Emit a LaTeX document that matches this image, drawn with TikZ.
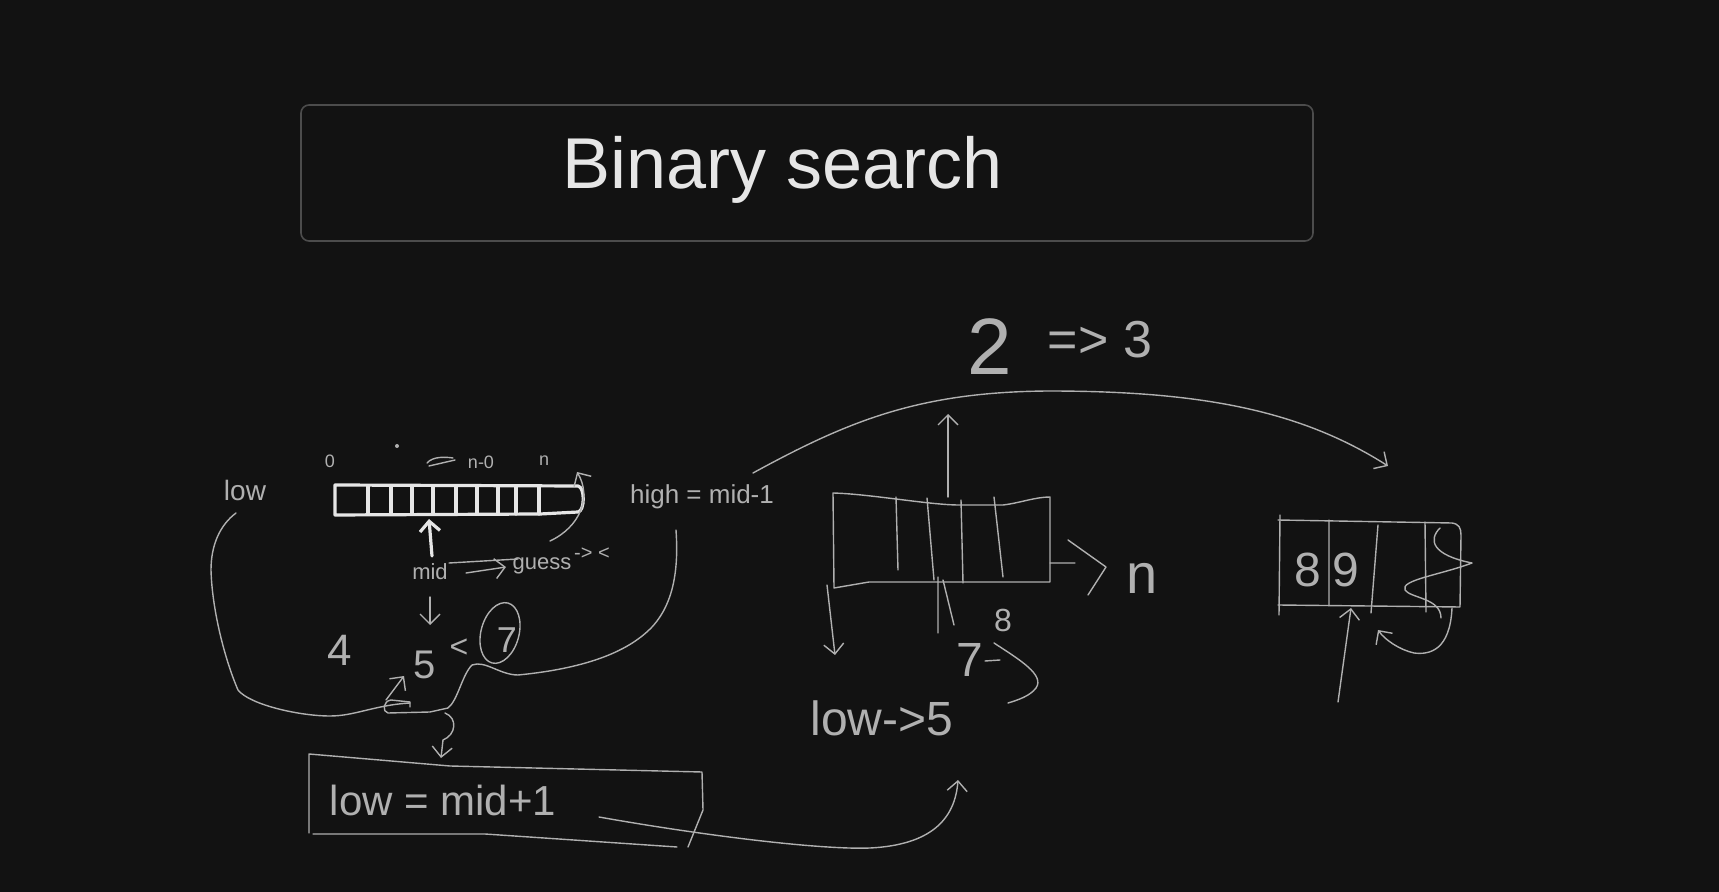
\documentclass[tikz,border=0pt]{standalone}
\usepackage{fontspec}
\setmainfont{Liberation Sans}
\usetikzlibrary{arrows.meta}

\begin{document}
\begin{tikzpicture}[x=0.5pt,y=-0.5pt]

\definecolor{cBg}{HTML}{121212}
\definecolor{cInk}{HTML}{B0B0B0}
\definecolor{cChalk}{HTML}{E6E6E6}
\definecolor{cFrame}{HTML}{4C4C4C}

\tikzset{
  sk/.style     = {cInk, line width=0.7pt, line cap=round, line join=round},
  chalk/.style  = {cChalk, line width=1.6pt, line cap=round, line join=round},
  hand/.style   = {text=cInk, inner sep=0pt},
  tipped/.style = {-{Straight Barb[length=5pt,width=10pt]}},
}

%% ---------- canvas ----------
\fill[cBg] (0,0) rectangle (1719,892);
\useasboundingbox (0,0) rectangle (1719,892);

%% ---------- title ----------
\draw[cFrame, line width=0.8pt, rounded corners=4pt] (301,105) rectangle (1313,241);
\node[text=cChalk, anchor=base, inner sep=0pt, font=\fontsize{36}{40}\selectfont] (title) at (783,189) {Binary search};

%% ---------- first array, left ----------
\draw[chalk] (335,485) -- (578,486) .. controls (585,487) and (585,511) .. (578,512) -- (540,514) -- (335,515) -- cycle;
\foreach \x in {368,391,412,433,456,477,498,516,539}
  \draw[chalk] (\x,486) -- (\x,514);

\node[hand, font=\fontsize{9}{10}\selectfont] (zero) at (330,461) {0};
\fill[cInk] (397,446) circle (1pt);
\draw[sk] (427,463) .. controls (433,456) and (446,457) .. (453,458) (429,466) -- (455,460);
\node[hand, font=\fontsize{9}{10}\selectfont] (nminus) at (481,462) {n-0};
\node[hand, font=\fontsize{9}{10}\selectfont] (nlast) at (544,461) {n};

\node[hand, font=\fontsize{14}{16}\selectfont] (low) at (245,490) {low};
\node[hand, font=\fontsize{13}{15}\selectfont] (high) at (702,497) {high = mid-1};

\draw[sk, tipped] (550,541) .. controls (580,527) and (592,497) .. (577,472);

%% ---------- mid and the guess ----------
\node[hand, font=\fontsize{11}{13}\selectfont] (mid) at (430,572) {mid};
\draw[chalk, tipped] (432,556) -- (429,519);
\draw[sk] (449,563) -- (518,559);
\draw[sk, tipped] (466,573) -- (506,567);
\node[hand, font=\fontsize{11}{13}\selectfont] (guess) at (542,566) {guess};
\node[hand, font=\fontsize{10}{12}\selectfont] (cmp) at (592,554) {-> <};
\draw[sk, tipped] (430,597) -- (430,625);

\node[hand, font=\fontsize{22}{24}\selectfont] (four) at (340,650) {4};
\node[hand, font=\fontsize{20}{22}\selectfont] (five) at (425,665) {5};
\node[hand, font=\fontsize{16}{18}\selectfont] (less) at (459,648) {<};
\node[hand, font=\fontsize{18}{20}\selectfont] (seven) at (507,640) {7};
\draw[sk, rotate around={-15:(500,633)}] (500,633) ellipse [x radius=19, y radius=31];

%% ---------- the two loops ----------
\draw[sk] (236,513) .. controls (220,525) and (211,545) .. (211,570)
  .. controls (212,610) and (225,660) .. (238,690)
  .. controls (250,705) and (300,716) .. (330,716)
  .. controls (355,716) and (375,705) .. (410,703);
\draw[sk] (676,530) .. controls (678,560) and (677,600) .. (652,627)
  .. controls (630,650) and (590,668) .. (518,675)
  .. controls (500,675) and (485,660) .. (472,665)
  .. controls (462,675) and (458,700) .. (448,708)
  -- (430,712) -- (388,713) .. controls (382,712) and (383,701) .. (391,700) -- (410,702) -- (410,707);
\draw[sk, tipped] (386,700) -- (404,676);
\draw[sk, tipped] (445,713) .. controls (458,718) and (456,735) .. (443,740) -- (441,758);

%% ---------- low = mid+1 ----------
\draw[sk] (309,833) -- (309,754) -- (450,766) -- (702,772) -- (703,810) -- (688,847);
\draw[sk] (313,834) -- (485,834) -- (677,847);
\node[hand, font=\fontsize{21}{24}\selectfont] (lowset) at (443,800) {low = mid+1};
\draw[sk, tipped] (599,817) .. controls (700,835) and (820,850) .. (870,848)
  .. controls (930,845) and (955,820) .. (958,780);

%% ---------- second array, middle ----------
\node[hand, font=\fontsize{40}{44}\selectfont] (two) at (990,347) {2};
\node[hand, font=\fontsize{26}{30}\selectfont] (three) at (1100,340) {=> 3};
\draw[sk, tipped] (753,473) .. controls (850,420) and (920,392) .. (1048,391)
  .. controls (1200,391) and (1300,410) .. (1388,466);

\draw[sk] (833,493) .. controls (870,494) and (930,505) .. (959,505)
  -- (1003,505) .. controls (1020,503) and (1035,497) .. (1050,497)
  -- (1050,582) -- (869,582) -- (834,588) -- cycle;
\draw[sk] (896,497) -- (898,570) (927,498) -- (934,580) (961,500) -- (963,583) (994,497) -- (1003,577);
\draw[sk, tipped] (948,497) -- (948,414);
\draw[sk] (1050,563) -- (1075,563) (1068,540) -- (1106,567) -- (1088,595);
\node[hand, font=\fontsize{28}{32}\selectfont] (nright) at (1142,578) {n};
\draw[sk, tipped] (827,585) -- (835,655);
\draw[sk] (938,577) -- (938,633) (943,580) -- (954,625);
\node[hand, font=\fontsize{16}{18}\selectfont] (eight) at (1003,620) {8};
\node[hand, font=\fontsize{24}{26}\selectfont] (sevenb) at (970,660) {7};
\draw[sk] (985,661) -- (1000,660) (994,643) .. controls (1020,660) and (1045,675) .. (1036,688) .. controls (1030,696) and (1018,700) .. (1008,703);
\node[hand, font=\fontsize{24}{26}\selectfont] (lowfive) at (882,718) {low->5};

%% ---------- third array, right ----------
\draw[sk] (1280,515) -- (1279,615);
\draw[sk] (1278,520) -- (1452,523) .. controls (1459,524) and (1461,528) .. (1461,535) -- (1460,607) -- (1278,605);
\draw[sk] (1329,520) -- (1329,605) (1378,525) -- (1371,613) (1425,522) -- (1426,612);
\node[hand, font=\fontsize{24}{26}\selectfont] (eightb) at (1308,570) {8};
\node[hand, font=\fontsize{24}{26}\selectfont] (nine) at (1346,570) {9};
\draw[sk] (1440,528) .. controls (1428,540) and (1432,555) .. (1472,563)
  .. controls (1440,575) and (1400,580) .. (1405,590)
  .. controls (1410,598) and (1441,598) .. (1441,618);
\draw[sk, tipped] (1338,702) -- (1351,608);
\draw[sk, tipped] (1452,608) .. controls (1450,650) and (1430,655) .. (1414,653)
  .. controls (1400,650) and (1385,640) .. (1378,630);

\end{tikzpicture}
\end{document}
